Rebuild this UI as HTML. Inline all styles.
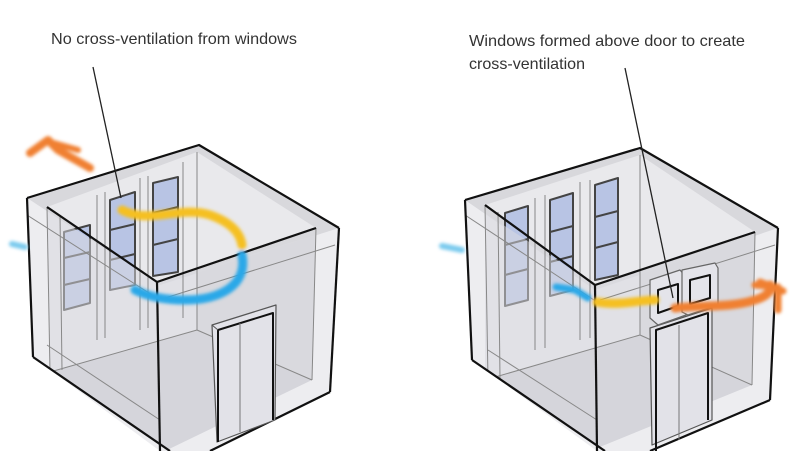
<!DOCTYPE html>
<html><head><meta charset="utf-8"><style>
html,body{margin:0;padding:0;background:#fff;width:800px;height:451px;overflow:hidden}
svg{display:block}
text{font-family:"Liberation Sans",sans-serif;font-size:16px;fill:#333}
</style></head><body>
<svg width="800" height="451" viewBox="0 0 800 451" xmlns="http://www.w3.org/2000/svg">
<defs>
<filter id="bl" x="-20%" y="-50%" width="140%" height="200%"><feGaussianBlur stdDeviation="1.6"/></filter>
<clipPath id="cl"><polygon points="27,198 199,145 339,228 330,392 210,451 170,451 33,357"/></clipPath>
<clipPath id="cr"><polygon points="465,200 640,148 778,228 770,400 650,451 605,451 472,360"/></clipPath>
</defs>
<rect width="800" height="451" fill="#fff"/>
<text x="51" y="44" textLength="246" lengthAdjust="spacingAndGlyphs">No cross-ventilation from windows</text>
<text x="469" y="46" textLength="276" lengthAdjust="spacingAndGlyphs">Windows formed above door to create</text>
<text x="469" y="69" textLength="116" lengthAdjust="spacingAndGlyphs">cross-ventilation</text>

<!-- LEFT BOX -->
<g stroke-linejoin="round">
<g clip-path="url(#cl)">
<polygon points="47,207 197,152 197,330 50,372" fill="#e6e6ea"/>
<polygon points="197,152 316,228 312,380 197,330" fill="#d6d6da"/>
<polygon points="50,372 197,330 312,380 165,451 60,451" fill="#cfcfd4"/>
</g>
<polygon points="27,198 199,145 339,228 160,285" fill="#d8d8dc"/>
<polygon points="47,207 197,152 316,228 157,282" fill="#e9e9ec"/>
<g fill="#b8c4e4" stroke="#444" stroke-width="2">
<polygon points="64,232 90,225 90,303 64,310"/>
<polygon points="110,200 135,192 135,285 110,290"/>
<polygon points="153,183 178,177 178,272 153,276"/>
</g>
<g stroke="#444" stroke-width="2">
<line x1="64" y1="258" x2="90" y2="252"/><line x1="64" y1="285" x2="90" y2="279"/>
<line x1="110" y1="230" x2="135" y2="224"/><line x1="110" y1="260" x2="135" y2="254"/>
<line x1="153" y1="213" x2="178" y2="207"/><line x1="153" y1="245" x2="178" y2="239"/>
</g>
<polygon points="27,198 157,282 160,451 33,357" fill="#dcdce2" fill-opacity="0.5"/>
<polygon points="157,282 339,228 330,392 210,451 160,451" fill="#dcdce2" fill-opacity="0.5"/>
<g stroke="#888" stroke-width="1" fill="none" clip-path="url(#cl)">
<line x1="47" y1="207" x2="50" y2="372"/><line x1="60" y1="215" x2="62" y2="370"/>
<line x1="97" y1="195" x2="97" y2="340"/><line x1="105" y1="192" x2="105" y2="338"/>
<line x1="140" y1="178" x2="140" y2="330"/><line x1="148" y1="176" x2="148" y2="328"/>
<line x1="183" y1="162" x2="183" y2="318"/><line x1="197" y1="152" x2="197" y2="330"/>
<line x1="316" y1="228" x2="312" y2="380"/><line x1="27" y1="215" x2="160" y2="300"/>
<line x1="50" y1="372" x2="197" y2="330"/><line x1="197" y1="330" x2="312" y2="380"/>
<line x1="165" y1="298" x2="335" y2="245"/><line x1="47" y1="345" x2="160" y2="420"/>
</g>
<g stroke="#111" stroke-width="2.2" fill="none">
<polyline points="27,198 199,145 339,228"/>
<line x1="27" y1="198" x2="33" y2="357"/><line x1="33" y1="357" x2="170" y2="451"/>
<line x1="339" y1="228" x2="330" y2="392"/><line x1="330" y1="392" x2="210" y2="451"/>
<polyline points="47,207 157,282 316,228"/>
<line x1="157" y1="282" x2="160" y2="451"/>
</g>
<polygon points="212,325 276,305 275,420 217,442" fill="#e2e2e8" stroke="#555" stroke-width="1.2"/>
<path d="M218,442 L218,330 L273,313 L273,420" fill="none" stroke="#111" stroke-width="2"/>
<line x1="240" y1="323" x2="240" y2="432" stroke="#777"/>
<line x1="212" y1="325" x2="218" y2="330" stroke="#555"/>
<g filter="url(#bl)" fill="none" stroke-linecap="round">
<path d="M122,210 C150,225 180,205 210,215 C230,222 240,232 242,245" stroke="#f5c020" stroke-width="9"/>
<path d="M242,255 C248,285 220,300 185,300 C160,300 145,295 135,290" stroke="#2aa8e8" stroke-width="9"/>
<path d="M30,153 L48,140 L58,150 L90,168" stroke="#f08030" stroke-width="8"/>
<path d="M50,142 L78,150" stroke="#f08030" stroke-width="6"/>
<path d="M12,244 L25,247" stroke="#7ccbee" stroke-width="6"/>
</g>
<line x1="93" y1="67" x2="121" y2="198" stroke="#222" stroke-width="1.3"/>
</g>

<!-- RIGHT BOX -->
<g stroke-linejoin="round">
<g clip-path="url(#cr)">
<polygon points="485,205 640,155 640,335 485,380" fill="#e6e6ea"/>
<polygon points="640,155 755,232 752,385 640,335" fill="#d6d6da"/>
<polygon points="485,380 640,335 752,385 590,451 490,451" fill="#cfcfd4"/>
</g>
<polygon points="465,200 640,148 778,228 595,290" fill="#d8d8dc"/>
<polygon points="485,205 640,155 755,232 595,285" fill="#e9e9ec"/>
<g fill="#b8c4e4" stroke="#444" stroke-width="2">
<polygon points="505,213 528,206 528,300 505,306"/>
<polygon points="550,200 573,193 573,290 550,296"/>
<polygon points="595,185 618,178 618,275 595,280"/>
</g>
<g stroke="#444" stroke-width="2">
<line x1="505" y1="245" x2="528" y2="239"/><line x1="505" y1="275" x2="528" y2="269"/>
<line x1="550" y1="232" x2="573" y2="226"/><line x1="550" y1="262" x2="573" y2="256"/>
<line x1="595" y1="217" x2="618" y2="211"/><line x1="595" y1="248" x2="618" y2="242"/>
</g>
<polygon points="465,200 595,285 597,451 472,360" fill="#dcdce2" fill-opacity="0.5"/>
<polygon points="595,285 778,228 770,400 650,451 597,451" fill="#dcdce2" fill-opacity="0.5"/>
<g stroke="#888" stroke-width="1" fill="none" clip-path="url(#cr)">
<line x1="485" y1="205" x2="488" y2="380"/><line x1="498" y1="212" x2="500" y2="378"/>
<line x1="535" y1="198" x2="535" y2="350"/><line x1="545" y1="195" x2="545" y2="348"/>
<line x1="580" y1="182" x2="580" y2="340"/><line x1="590" y1="180" x2="590" y2="338"/>
<line x1="640" y1="155" x2="640" y2="335"/><line x1="755" y1="232" x2="752" y2="385"/>
<line x1="465" y1="215" x2="597" y2="302"/><line x1="485" y1="380" x2="640" y2="335"/>
<line x1="640" y1="335" x2="752" y2="385"/><line x1="600" y1="300" x2="775" y2="245"/>
<line x1="488" y1="350" x2="597" y2="420"/>
</g>
<g stroke="#111" stroke-width="2.2" fill="none">
<polyline points="465,200 640,148 778,228"/>
<line x1="465" y1="200" x2="472" y2="360"/><line x1="472" y1="360" x2="605" y2="451"/>
<line x1="778" y1="228" x2="770" y2="400"/><line x1="770" y1="400" x2="650" y2="451"/>
<polyline points="485,205 595,285 755,232"/>
<line x1="595" y1="285" x2="597" y2="451"/>
</g>
<polygon points="650,328 712,308 712,420 652,445" fill="#e2e2e8" stroke="#555" stroke-width="1.2"/>
<path d="M656,451 L656,330 L708,313 L708,420" fill="none" stroke="#111" stroke-width="2"/>
<line x1="679" y1="325" x2="679" y2="440" stroke="#777"/>
<polygon points="650,280 680,270 686,277 686,315 658,325 650,318" fill="#e4e4ea" stroke="#666" stroke-width="1.2"/>
<polygon points="682,270 715,263 718,268 718,305 688,315 682,312" fill="#e4e4ea" stroke="#666" stroke-width="1.2"/>
<path d="M658,290 L678,284 L678,306 L658,313 Z" fill="none" stroke="#111" stroke-width="2"/>
<path d="M690,280 L710,275 L710,298 L690,304 Z" fill="none" stroke="#111" stroke-width="2"/>
<g filter="url(#bl)" fill="none" stroke-linecap="round">
<path d="M597,302 C620,306 640,300 655,300" stroke="#f5c020" stroke-width="9"/>
<path d="M556,287 L575,290 L588,298" stroke="#2aa8e8" stroke-width="7"/>
<path d="M442,246 L462,250" stroke="#7ccbee" stroke-width="6"/>
<path d="M675,308 C700,305 730,308 755,300 C768,296 772,290 770,285" stroke="#f08030" stroke-width="9"/>
<path d="M755,285 L778,287 M778,287 L778,310 M760,282 L783,291" stroke="#f08030" stroke-width="7"/>
</g>
<line x1="625" y1="68" x2="673" y2="298" stroke="#222" stroke-width="1.3"/>
</g>
</svg>
</body></html>
